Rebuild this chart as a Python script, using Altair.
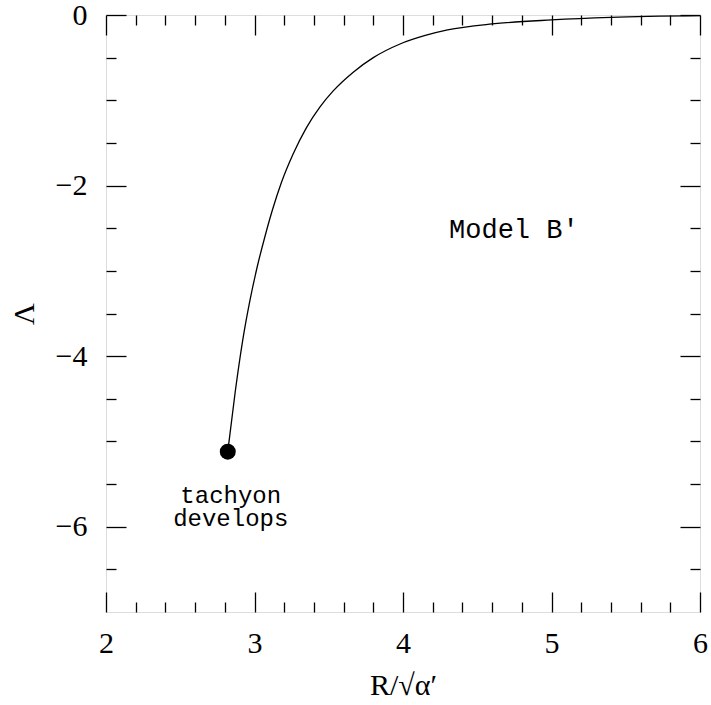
import altair as alt
import pandas as pd

# curve: Lambda vs R/sqrt(alpha')
r_vals = [2.82, 2.87, 2.92, 2.97, 3.02, 3.07, 3.12, 3.18, 3.26, 3.35, 3.44,
          3.53, 3.665, 3.80, 3.98, 4.15, 4.30, 4.60, 5.00, 5.40, 6.00]
lam_vals = [-5.12, -4.42, -3.82, -3.34, -2.94, -2.60, -2.29, -1.97, -1.63,
            -1.32, -1.08, -0.89, -0.67, -0.50, -0.34, -0.24, -0.175, -0.105,
            -0.058, -0.028, -0.008]

dot_r = [2.82]
dot_lam = [-5.12]

note_r = [4.31]
note_lam = [-2.61]
note_text = ["Model B\u2032"]

tach_r = [2.84]
tach_lam = [-5.72]
tach_text = ["tachyon\ndevelops"]

x_major = [2, 3, 4, 5, 6]
x_minor = [2.2, 2.4, 2.6, 2.8, 3.2, 3.4, 3.6, 3.8, 4.2, 4.4, 4.6, 4.8,
           5.2, 5.4, 5.6, 5.8]
y_labels = [0, -2, -4, -6]
y_major = [0, -2, -4, -6]
y_minor = [-0.5, -1, -1.5, -2.5, -3, -3.5, -4.5, -5, -5.5, -6.5]

W, H = 594, 597
SERIF = "Liberation Serif"
MONO = "Liberation Mono"

curve = pd.DataFrame({"r": r_vals, "lam": lam_vals})
dot = pd.DataFrame({"r": dot_r, "lam": dot_lam})
note = pd.DataFrame({"r": note_r, "lam": note_lam, "t": note_text})
tach = pd.DataFrame({"r": tach_r, "lam": tach_lam, "t": tach_text})

xs = alt.Scale(domain=[2, 6], nice=False, zero=False)
ys = alt.Scale(domain=[-7, 0], nice=False, zero=False)


def tick_axis(orient, values, size, offset):
    return alt.Axis(orient=orient, values=values, tickSize=size, offset=offset,
                    labels=False, domain=False, grid=False, title=None,
                    tickColor="black", tickWidth=1.3)


# main line with labelled axes
line = alt.Chart(curve).mark_line(color="black", strokeWidth=1.3,
                                  interpolate="monotone").encode(
    x=alt.X("r:Q", scale=xs, axis=alt.Axis(
        orient="bottom", values=x_major, format="d", ticks=False, tickSize=0,
        labelPadding=16, labelFlush=False, domain=False, grid=False,
        title="R/\u221a\u03b1\u2032", titlePadding=12,
        labelFont=SERIF, labelFontSize=30, labelColor="black",
        titleFont=SERIF, titleFontSize=30, titleFontWeight="normal",
        titleColor="black")),
    y=alt.Y("lam:Q", scale=ys, axis=alt.Axis(
        orient="left", values=y_labels, format="d", ticks=False, tickSize=0,
        labelPadding=19, labelFlush=False, domain=False, grid=False,
        title="\u039b", titlePadding=16,
        labelFont=SERIF, labelFontSize=30, labelColor="black",
        titleFont=SERIF, titleFontSize=30, titleFontWeight="normal",
        titleColor="black")),
)

# major ticks on bottom & left, pointing inward
pt = alt.Chart(dot).mark_circle(color="black", opacity=1, size=255).encode(
    x=alt.X("r:Q", scale=xs, axis=tick_axis("top", x_major, 20, -H)),
    y=alt.Y("lam:Q", scale=ys, axis=tick_axis("right", y_major, 20, -W)),
)

# minor ticks on bottom & left
txt1 = alt.Chart(note).mark_text(font=MONO, fontSize=27, align="left",
                                 baseline="alphabetic", color="black").encode(
    x=alt.X("r:Q", scale=xs, axis=tick_axis("top", x_minor, 10, -H)),
    y=alt.Y("lam:Q", scale=ys, axis=tick_axis("right", y_minor, 10, -W)),
    text="t:N",
)

# major ticks on top & right
txt2 = alt.Chart(tach).mark_text(font=MONO, fontSize=24, align="center",
                                 baseline="alphabetic", lineBreak="\n",
                                 lineHeight=23, color="black").encode(
    x=alt.X("r:Q", scale=xs, axis=tick_axis("bottom", x_major, 20, -H)),
    y=alt.Y("lam:Q", scale=ys, axis=tick_axis("left", y_major, 20, -W)),
    text="t:N",
)

# minor ticks on top & right (invisible carrier layer)
carrier = alt.Chart(dot).mark_circle(opacity=0, size=1).encode(
    x=alt.X("r:Q", scale=xs, axis=tick_axis("bottom", x_minor, 10, -H)),
    y=alt.Y("lam:Q", scale=ys, axis=tick_axis("left", y_minor, 10, -W)),
)

chart = alt.layer(line, pt, txt1, txt2, carrier).resolve_axis(
    x="independent", y="independent"
).properties(
    width=W, height=H,
    autosize=alt.AutoSizeParams(type="none"),
    padding={"left": 106, "top": 15, "right": 11, "bottom": 93},
).configure_view(
    stroke="black", strokeWidth=1.5
).configure(background="white")

chart.save("out.html", embed_options={"renderer": "svg", "actions": False})
